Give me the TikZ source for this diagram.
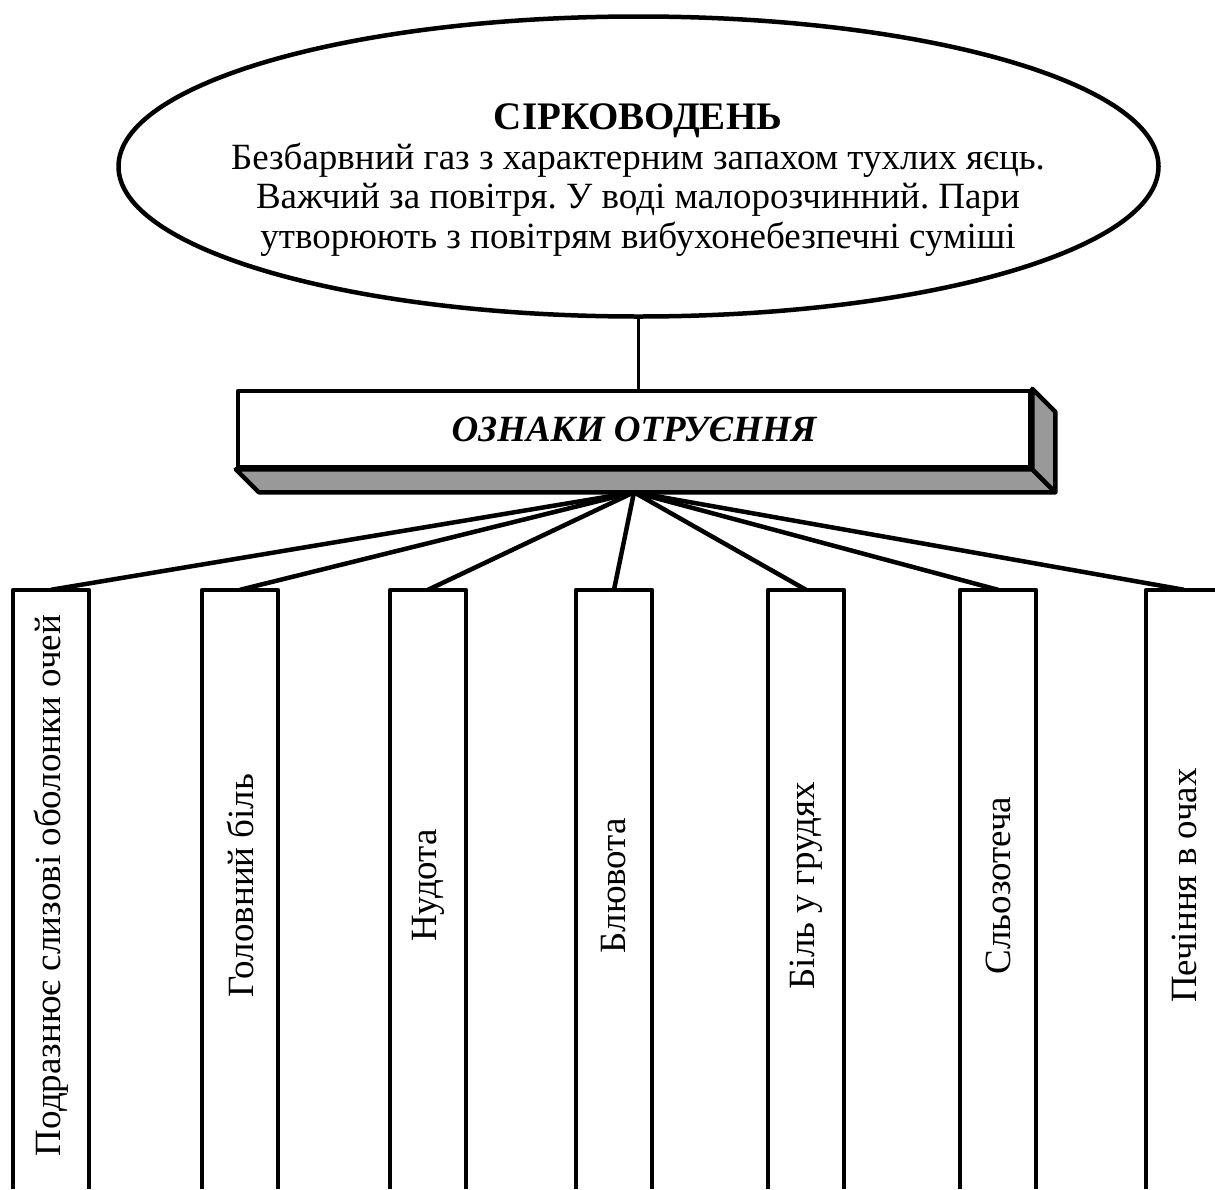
\documentclass[tikz,border=0pt]{standalone}
\usepackage{fontspec}
\setmainfont{Liberation Serif}
\usetikzlibrary{shapes.geometric,calc}
\definecolor{facegray}{RGB}{153,153,153}
\frenchspacing
\begin{document}
\frenchspacing
\begin{tikzpicture}[x=1pt,y=-1pt,line join=round,
  txt/.style={font=\fontsize{37}{39.5}\selectfont, align=center, inner sep=0pt},
  colbox/.style={minimum width=76pt, minimum height=599pt, inner sep=0pt, draw=none},
  coltxt/.style={rotate=90, font=\fontsize{37}{40}\selectfont, inner sep=0pt},
  outl/.style={line width=4pt},
  fan/.style={line width=4.5pt}]
\useasboundingbox (0,0) rectangle (1215,1189);
% ellipse
\node[ellipse, draw, line width=4.5pt, minimum width=1040pt, minimum height=300pt, inner sep=0pt] (e) at (638.5,166.5) {};
\node[txt] (et) at (638,180) {{\fontsize{39}{39.5}\selectfont\bfseries СІРКОВОДЕНЬ}\\Безбарвний газ з характерним запахом тухлих яєць.\\Важчий за повітря. У воді малорозчинний. Пари\\утворюють з повітрям вибухонебезпечні суміші};
% 3D box
\node[draw, fill=white, line width=4.5pt, minimum width=792pt, minimum height=76pt, inner sep=0pt,
  font=\bfseries\itshape\fontsize{37}{40}\selectfont] (b) at (634,429) {ОЗНАКИ ОТРУЄННЯ};
\draw[fill=facegray, line width=4.5pt] (b.south west) -- ++(23,23) -- ($(b.south east)+(23,23)$) -- (b.south east) -- cycle;
\draw[fill=facegray, line width=4.5pt] (b.north east) -- ++(23,23) -- ($(b.south east)+(23,23)$) -- (b.south east) -- cycle;
\coordinate (hub) at ($(b.south)+(0,23)$);
\draw[line width=3pt] (e.south) -- (e.south |- b.north);
% columns
\foreach \i/\x/\t in {1/51/{Подразнює слизові оболонки очей},2/240/{Головний біль},3/428/{Нудота},4/614/{Блювота},5/806/{Біль у грудях},6/998/{Сльозотеча},7/1184/{Печіння в очах}}{
  \node[colbox] (c\i) at (\x,889.5) {};
  \node[coltxt] (t\i) at ($(c\i)+(0,-4)$) {\t};
  \draw[outl] (c\i.south west) -- (c\i.north west) -- (c\i.north east) -- (c\i.south east);
  \draw[fan] (hub) -- (c\i.north);
}
\end{tikzpicture}
\end{document}
